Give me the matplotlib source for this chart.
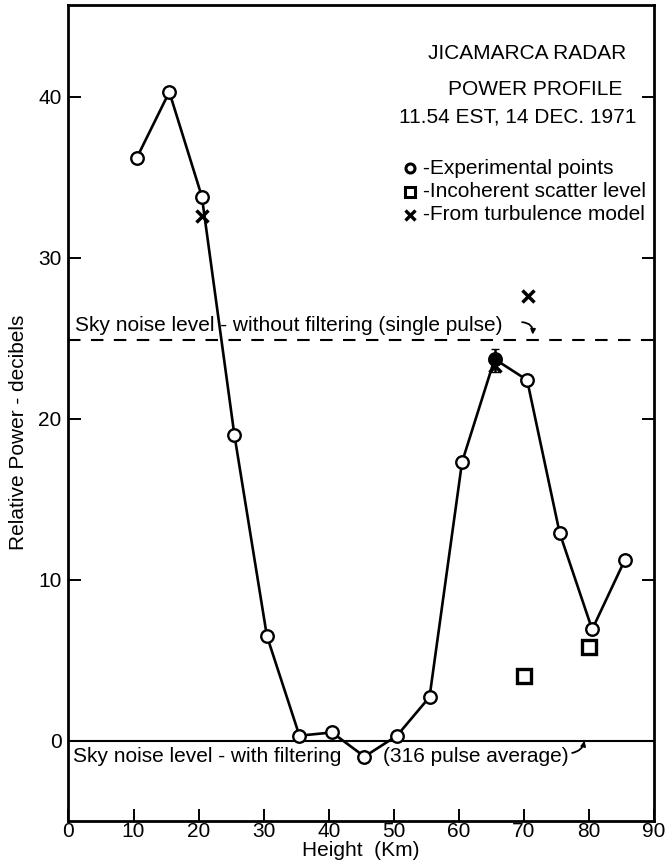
import matplotlib
matplotlib.use("Agg")
import matplotlib.pyplot as plt

plt.rcParams['font.family'] = ['Liberation Sans', 'DejaVu Sans']

# Data
height_exp = [10.5, 15.5, 20.5, 25.5, 30.5, 35.5, 40.5, 45.5, 50.5, 55.5, 60.5, 65.5, 70.5, 75.5, 80.5, 85.5]
power_exp = [36.2, 40.3, 33.8, 19.0, 6.5, 0.3, 0.5, -1.0, 0.3, 2.7, 17.3, 23.7, 22.4, 12.9, 6.9, 11.2]
height_incoh = [70.0, 80.0]
power_incoh = [4.0, 5.8]
height_turb = [20.5, 65.5, 70.7]
power_turb = [32.6, 23.3, 27.6]
sky_noise_single = 24.9
sky_noise_avg = 0.0
xticks = [0, 10, 20, 30, 40, 50, 60, 70, 80, 90]
yticks = [0, 10, 20, 30, 40]

FS = 15

fig = plt.figure(figsize=(6.68, 8.65), dpi=100)
ax = fig.add_axes([0.1025, 0.0509, 0.8765, 0.9433])
ax.set_xlim(0, 90)
ax.set_ylim(-5, 45.7)

for s in ax.spines.values():
    s.set_linewidth(2.0)

ax.set_xticks(xticks)
ax.set_yticks(yticks)
ax.tick_params(axis='both', direction='in', length=9, width=1.4, labelsize=FS,
               right=True, top=False)
ax.tick_params(axis='x', pad=1)
ax.tick_params(axis='y', pad=5)
ax.set_xlabel('Height  (Km)', fontsize=FS, labelpad=0)
fig.text(19 / 668, 1 - 432 / 865, 'Relative Power - decibels', fontsize=FS,
         rotation=90, ha='center', va='center')

# reference lines
ax.axhline(sky_noise_single, color='black', lw=1.5, ls=(0, (6, 5)))
ax.axhline(sky_noise_avg, color='black', lw=1.5)

# main curve
ax.plot(height_exp, power_exp, color='black', lw=1.9, marker='o', ms=9,
        mfc='white', mec='black', mew=1.7, zorder=3)
ax.errorbar([height_exp[11]], [power_exp[11]], yerr=[[0.8], [0.6]], fmt='none',
            ecolor='black', elinewidth=1.8, capsize=3, zorder=4)
ax.plot([height_exp[11]], [power_exp[11]], 'o', ms=7, color='black', zorder=5)
ax.plot(height_incoh, power_incoh, ls='none', marker='s', ms=9.5, mfc='white',
        mec='black', mew=2.4, zorder=3)
ax.plot(height_turb, power_turb, ls='none', marker='x', ms=8.5, color='black',
        mew=2.5, zorder=4)

# title block
ax.text(0.783, 0.941, 'JICAMARCA RADAR', transform=ax.transAxes, fontsize=FS, ha='center', va='center')
ax.text(0.797, 0.896, 'POWER PROFILE', transform=ax.transAxes, fontsize=FS, ha='center', va='center')
ax.text(0.768, 0.863, '11.54 EST, 14 DEC. 1971', transform=ax.transAxes, fontsize=FS, ha='center', va='center')

# hand-made key
mx = 0.584
tx = 0.605
rows = [(0.800, 'o', dict(ms=6.5, mfc='white', mew=2.2), '-Experimental points'),
        (0.771, 's', dict(ms=7.5, mfc='white', mew=2.2), '-Incoherent scatter level'),
        (0.743, 'x', dict(ms=7, mew=2.4), '-From turbulence model')]
for yy, mk, kw, label in rows:
    ax.plot([mx], [yy], marker=mk, ls='none', color='black', mec='black',
            transform=ax.transAxes, clip_on=False, **kw)
    ax.text(tx, yy, label, transform=ax.transAxes, fontsize=FS, ha='left', va='center')

# sky-noise labels
ax.text(1.0, 25.8, 'Sky noise level - without filtering (single pulse)', fontsize=FS,
        ha='left', va='center')
ax.annotate('', xy=(71.3, 25.05), xytext=(69.3, 26.0),
            arrowprops=dict(arrowstyle='-|>', color='black', lw=1.3, mutation_scale=7,
                            connectionstyle='arc3,rad=-0.6'))
ax.text(0.7, -1.0, 'Sky noise level - with filtering', fontsize=FS,
        ha='left', va='center')
ax.text(48.3, -1.0, '(316 pulse average)', fontsize=FS, ha='left', va='center')
ax.annotate('', xy=(79.4, 0.15), xytext=(77.0, -0.8),
            arrowprops=dict(arrowstyle='-|>', color='black', lw=1.3, mutation_scale=7,
                            connectionstyle='arc3,rad=0.4'))

fig.savefig('out.png', dpi=100)
